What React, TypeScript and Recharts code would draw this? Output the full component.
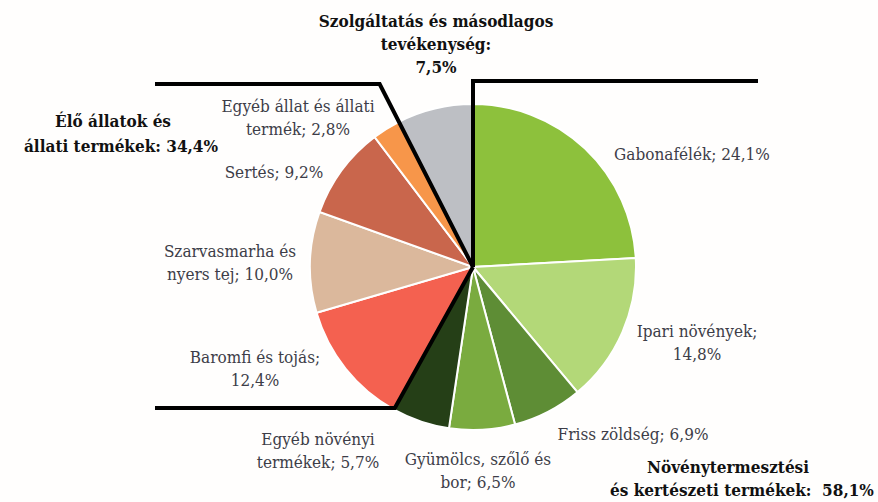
import React from "react";
import { PieChart, Pie, Cell } from "recharts";

const categories = [
  "Gabonafélék",
  "Ipari növények",
  "Friss zöldség",
  "Gyümölcs, szőlő és bor",
  "Egyéb növényi termékek",
  "Baromfi és tojás",
  "Szarvasmarha és nyers tej",
  "Sertés",
  "Egyéb állat és állati termék",
  "Szolgáltatás és másodlagos tevékenység",
];
const shares = [24.1, 14.8, 6.9, 6.5, 5.7, 12.4, 10.0, 9.2, 2.8, 7.5];
const colors = [
  "#8dc13c",
  "#b3d878",
  "#5e8d35",
  "#7aab3f",
  "#253f17",
  "#f46150",
  "#dbb89c",
  "#c9664c",
  "#f7964a",
  "#bdbfc4",
];

// group titles and totals as published
const groupTitles = [
  ["Növénytermesztési", "és kertészeti termékek:"],
  ["Élő állatok és", "állati termékek:"],
];
const groupTotals = [58.1, 34.4];

const data = categories.map((name, i) => ({ name, value: shares[i] }));

// layout
const W = 878;
const H = 502;
const CX = 473;
const CY = 267;
const R = 163;
const FONT = "'DejaVu Serif Condensed', 'DejaVu Serif', serif";
const TEXT = "#3d3d48";
const LINE_H = 23;
const FS = 17;

// label offset from pie centre (centre x, first baseline) and wrap width
const labelPos: [number, number, number][] = [
  [219, -107, 20],
  [224, 70, 16],
  [160, 173, 20],
  [5, 198, 19],
  [-155, 178, 14],
  [-218, 96, 18],
  [-243, -10, 16],
  [-199, -89, 20],
  [-175, -155, 22],
  [-37, -240, 27],
];

const fmt = (v: number) => v.toFixed(1).replace(".", ",") + "%";

const wrap = (text: string, max: number) => {
  const lines: string[] = [];
  let cur = "";
  text.split(" ").forEach((w) => {
    const next = cur ? cur + " " + w : w;
    if (next.length > max && cur) {
      lines.push(cur);
      cur = w;
    } else cur = next;
  });
  if (cur) lines.push(cur);
  return lines;
};

const renderLabel = (props: any) => {
  const { cx, cy, index } = props;
  const [dx, dy, max] = labelPos[index];
  const last = index === categories.length - 1;
  const text = last
    ? categories[index] + ": " + fmt(shares[index])
    : categories[index] + "; " + fmt(shares[index]);
  let lines = wrap(text, max);
  if (last) {
    // "Szolgáltatás és másodlagos" / "tevékenység:" / "7,5%"
    const parts = text.split(" ");
    lines = [parts.slice(0, 3).join(" "), parts[3], parts[4]];
  }
  const x = cx + dx;
  return (
    <text
      key={"lbl" + index}
      x={x}
      y={cy + dy}
      textAnchor="middle"
      style={{
        fontFamily: FONT,
        fontSize: FS,
        fontWeight: last ? "bold" : "normal",
      }}
      fill={last ? "#111" : TEXT}
    >
      {lines.map((l, j) => (
        <tspan key={j} x={x} dy={j === 0 ? 0 : LINE_H}>
          {l}
        </tspan>
      ))}
    </text>
  );
};

const total = shares.reduce((a, b) => a + b, 0);
const boundaryAngle = (k: number) => {
  const before = shares.slice(0, k).reduce((a, b) => a + b, 0);
  return ((90 - (360 * before) / total) * Math.PI) / 180;
};

// bracket lines: ray from the centre along a slice boundary up to a level,
// then horizontal to an end x
const brackets: { k: number; level: number; endX: number }[] = [
  { k: 0, level: 81, endX: 758 },
  { k: 9, level: 84, endX: 155 },
  { k: 5, level: 408, endX: 155 },
];

const boldStyle = { fontFamily: FONT, fontSize: FS, fontWeight: "bold" as const };

const Overlay = () => (
  <svg
    width={W}
    height={H}
    style={{ position: "absolute", left: 0, top: 0, pointerEvents: "none" }}
  >
    {brackets.map((b, i) => {
      const a = boundaryAngle(b.k);
      const ux = Math.cos(a);
      const uy = -Math.sin(a);
      const t = (b.level - CY) / uy;
      const ex = CX + ux * t;
      return (
        <polyline
          key={i}
          points={`${b.endX},${b.level} ${ex},${b.level} ${CX},${CY}`}
          fill="none"
          stroke="#000"
          strokeWidth={4}
          strokeLinejoin="miter"
        />
      );
    })}
    <text x={728} y={473} textAnchor="middle" style={boldStyle} fill="#111">
      <tspan x={728}>{groupTitles[0][0]}</tspan>
      <tspan x={742} dy={23}>
        {groupTitles[0][1] + "\u00a0 " + fmt(groupTotals[0])}
      </tspan>
    </text>
    <text x={113} y={127} textAnchor="middle" style={boldStyle} fill="#111">
      <tspan x={113}>{groupTitles[1][0]}</tspan>
      <tspan x={121} dy={25}>
        {groupTitles[1][1] + " " + fmt(groupTotals[1])}
      </tspan>
    </text>
  </svg>
);

export default function App() {
  return (
    <div
      style={{
        position: "absolute",
        left: 0,
        top: 0,
        width: W,
        height: H,
        background: "#fffefd",
      }}
    >
      <PieChart width={W} height={H} margin={{ top: 0, right: 0, bottom: 0, left: 0 }}>
        <Pie
          data={data}
          dataKey="value"
          nameKey="name"
          cx={CX}
          cy={CY}
          outerRadius={R}
          startAngle={90}
          endAngle={-270}
          stroke="#ffffff"
          strokeWidth={2}
          label={renderLabel}
          labelLine={false}
          isAnimationActive={false}
        >
          {data.map((d, i) => (
            <Cell key={d.name} fill={colors[i]} />
          ))}
        </Pie>
      </PieChart>
      <Overlay />
    </div>
  );
}
